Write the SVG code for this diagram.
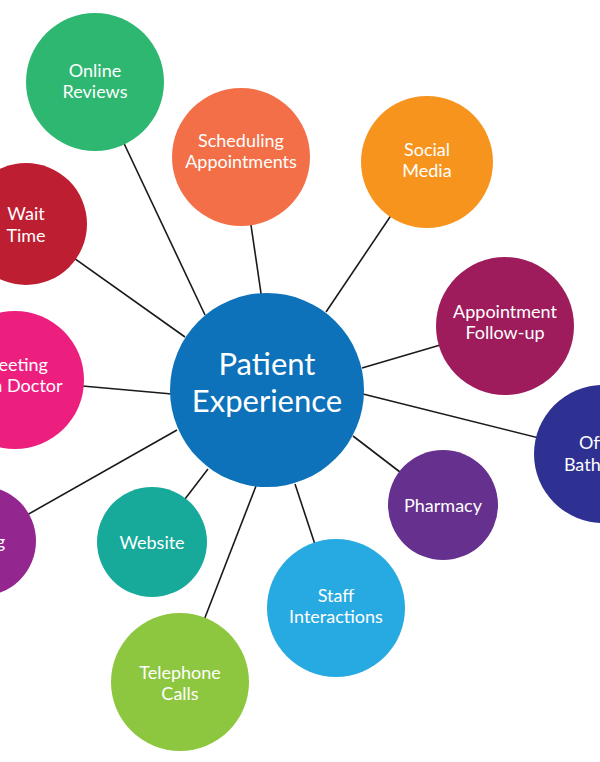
<svg xmlns="http://www.w3.org/2000/svg" width="600" height="762" viewBox="0 0 600 762">
<style>
.c line{stroke:#1a1a1a;stroke-width:1.6}
text{font-family:"Lato","Noto Sans",sans-serif;fill:#ffffff;text-anchor:middle;font-size:18px}
.big{font-size:31px}
</style>
<rect width="600" height="762" fill="#ffffff"/>
<g class="c" id="connectors">
<line x1="95" y1="82" x2="205" y2="315"/>
<line x1="241" y1="157" x2="262" y2="300"/>
<line x1="427" y1="162" x2="326" y2="312"/>
<line x1="26" y1="224" x2="185" y2="337"/>
<line x1="505" y1="326" x2="362" y2="368"/>
<line x1="15" y1="380" x2="172" y2="394"/>
<line x1="603" y1="454" x2="363" y2="394"/>
<line x1="443" y1="505" x2="353" y2="436"/>
<line x1="-19" y1="541" x2="177" y2="430"/>
<line x1="152" y1="542" x2="208" y2="469"/>
<line x1="336" y1="608" x2="295" y2="484"/>
<line x1="180" y1="682" x2="256" y2="486"/>
</g>
<g id="online-reviews"><circle cx="95" cy="82" r="69" fill="#2DB770"/><text x="95" y="77">Online</text><text x="95" y="98">Reviews</text></g>
<g id="scheduling"><circle cx="241" cy="157" r="69" fill="#F26F47"/><text x="241" y="147">Scheduling</text><text x="241" y="168">Appointments</text></g>
<g id="social-media"><circle cx="427" cy="162" r="66" fill="#F7941E"/><text x="427" y="156">Social</text><text x="427" y="177">Media</text></g>
<g id="wait-time"><circle cx="26" cy="224" r="61" fill="#BE1E32"/><text x="26" y="220">Wait</text><text x="26" y="242">Time</text></g>
<g id="follow-up"><circle cx="505" cy="326" r="69" fill="#9E1C5C"/><text x="505" y="318">Appointment</text><text x="505" y="339">Follow-up</text></g>
<g id="meeting-doctor"><circle cx="15" cy="380" r="69" fill="#EC1F7F"/><text x="15" y="371">Meeting</text><text x="15" y="392">with Doctor</text></g>
<g id="office-bathroom"><circle cx="603" cy="454" r="69" fill="#2E3092"/><text x="603" y="449">Office</text><text x="603" y="471">Bathroom</text></g>
<g id="pharmacy"><circle cx="443" cy="505" r="55" fill="#66308F"/><text x="443" y="512">Pharmacy</text></g>
<g id="billing"><circle cx="-19" cy="541" r="55" fill="#93278F"/><text x="-19" y="548">Billing</text></g>
<g id="website"><circle cx="152" cy="542" r="55" fill="#17A99A"/><text x="152" y="549">Website</text></g>
<g id="staff"><circle cx="336" cy="608" r="69" fill="#27A9E1"/><text x="336" y="602">Staff</text><text x="336" y="623">Interactions</text></g>
<g id="telephone"><circle cx="180" cy="682" r="69" fill="#8DC63F"/><text x="180" y="679">Telephone</text><text x="180" y="700">Calls</text></g>
<g id="patient-experience"><circle cx="267" cy="390" r="97" fill="#0D72B9"/><text class="big" x="267" y="375">Patient</text><text class="big" x="267" y="412">Experience</text></g>
</svg>
